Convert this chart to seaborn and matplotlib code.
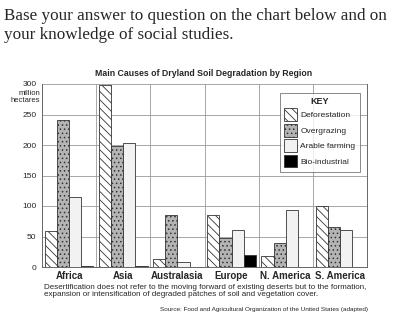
import matplotlib
matplotlib.use("Agg")
import matplotlib.pyplot as plt
import seaborn as sns
import pandas as pd

regions = ["Africa", "Asia", "Australasia", "Europe", "N. America", "S. America"]
causes = ["Deforestation", "Overgrazing", "Arable farming", "Bio-industrial"]
deforestation = [59, 299, 13, 86, 18, 100]
overgrazing = [241, 198, 86, 47, 40, 65]
arable_farming = [115, 204, 9, 61, 93, 60]
bio_industrial = [1.5, 1.5, 0, 20, 0, 0]
y_ticks = [0, 50, 100, 150, 200, 250, 300]

sns.set_theme(style="white")
plt.rcParams["font.family"] = ["Liberation Sans", "DejaVu Sans"]
plt.rcParams["hatch.linewidth"] = 0.6

rows = []
for c, vals in zip(causes, [deforestation, overgrazing, arable_farming, bio_industrial]):
    for r, v in zip(regions, vals):
        rows.append({"region": r, "cause": c, "value": v})
df = pd.DataFrame(rows)

fig = plt.figure(figsize=(4.0, 3.35), dpi=100)
ax = fig.add_axes([42/400, 1-267/335, (367-42)/400, (267-84)/335])

palette = {"Deforestation": "#ffffff", "Overgrazing": "#b4b4b4",
           "Arable farming": "#f2f2f2", "Bio-industrial": "#000000"}
sns.barplot(data=df, x="region", y="value", hue="cause", hue_order=causes,
            order=regions, palette=palette, width=0.9, edgecolor="#333333",
            linewidth=0.6, ax=ax, legend=False, saturation=1)

hatches = ["\\\\\\\\", "....", "", ""]
for cont, h in zip(ax.containers, hatches):
    for p in cont.patches:
        p.set_hatch(h)

ax.set_ylim(0, 300)
ax.set_xlim(-0.5, 5.5)
ax.set_yticks(y_ticks)
ax.set_yticklabels([str(t) for t in y_ticks], fontsize=6)
ax.set_xlabel("")
ax.set_ylabel("")
ax.set_xticks(range(len(regions)))
ax.set_xticklabels(regions, fontsize=7, fontweight="bold")
ax.tick_params(axis="x", length=0, pad=3)
ax.tick_params(axis="y", length=0, pad=4)
for x in [0.5, 1.5, 2.5, 3.5, 4.5]:
    ax.axvline(x, color="#999999", lw=0.6, zorder=0)
for y in y_ticks[1:]:
    ax.axhline(y, color="#999999", lw=0.6, zorder=0)
for s in ["left", "bottom", "right"]:
    ax.spines[s].set_color("#666666")
    ax.spines[s].set_linewidth(0.7)
ax.spines["top"].set_visible(False)
ax.set_axisbelow(True)

ax.text(-0.006, 0.968, "million\nhectares", transform=ax.transAxes, ha="right",
        va="top", fontsize=5.5, linespacing=1.05)

leg = ax.legend(handles=ax.containers, labels=causes, title="KEY", loc="upper right",
                bbox_to_anchor=(0.99, 0.975), fontsize=6, title_fontproperties={"weight": "bold", "size": 6.5},
                handlelength=1.6, handleheight=2.0, handletextpad=0.35, labelspacing=0.3,
                frameon=True, fancybox=False, edgecolor="#555555", borderpad=0.5)
leg.get_frame().set_linewidth(0.6)

fig.text(0.01, 0.975, "Base your answer to question on the chart below and on\nyour knowledge of social studies.",
         ha="left", va="top", fontsize=12.3, family=["Liberation Serif", "DejaVu Serif"], linespacing=1.2)
fig.text(204/400, 1-73/335, "Main Causes of Dryland Soil Degradation by Region", ha="center", va="center",
         fontsize=6.3, fontweight="bold")
fig.text(44/400, 1-284/335, "Desertification does not refer to the moving forward of existing deserts but to the formation,\nexpansion or intensification of degraded patches of soil and vegetation cover.",
         ha="left", va="top", fontsize=5.75, linespacing=1.1)
fig.text(368/400, 1-310/335, "Source: Food and Agricultural Organization of the United States (adapted)",
         ha="right", va="center", fontsize=4.6)

fig.savefig("out.png", dpi=100)
